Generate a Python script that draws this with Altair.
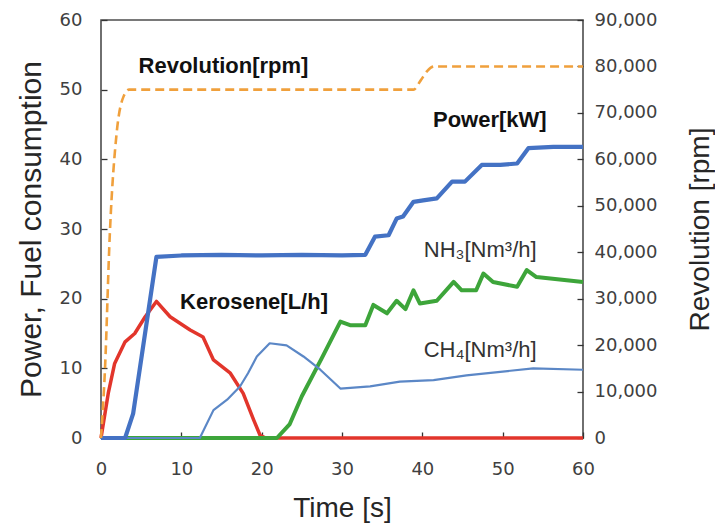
import altair as alt
import pandas as pd

# ---------------- data ----------------
x_ticks = [0, 10, 20, 30, 40, 50, 60]
left_ticks = [0, 10, 20, 30, 40, 50, 60]
right_ticks = [0, 10000, 20000, 30000, 40000, 50000, 60000, 70000, 80000, 90000]

rev_t = [0, 0.5, 1.1, 1.95, 2.8, 3.5, 38.9, 39.8, 40.6, 41.5, 60]
rev_rpm = [0, 15000, 44000, 65700, 73500, 75000, 75000, 77000, 79000, 80000, 80000]

power_t = [0, 3.0, 4.0, 6.9, 10, 15, 20, 25, 30, 32.9, 34.1, 35.8, 36.8, 37.6, 38.9,
           40.1, 41.8, 43.7, 45.3, 47.4, 49.7, 51.8, 53.2, 56.3, 60]
power_kw = [0, 0, 3.5, 26.0, 26.2, 26.3, 26.2, 26.3, 26.2, 26.3, 28.9, 29.1, 31.5, 31.8, 33.9,
            34.1, 34.4, 36.8, 36.8, 39.2, 39.2, 39.4, 41.6, 41.8, 41.8]

kero_t = [0, 0.9, 1.7, 3.0, 4.2, 5.5, 6.9, 8.6, 11.1, 12.7, 14.0, 16.1, 17.7, 19.0, 19.8, 20.5, 60]
kero_lh = [0, 6.4, 10.7, 13.8, 15.0, 17.4, 19.6, 17.4, 15.5, 14.5, 11.2, 9.3, 6.4, 2.6, 0.4, 0, 0]

ch4_t = [0, 12.3, 14.0, 15.7, 17.3, 18.3, 19.4, 21.0, 23.1, 25.2, 27.3, 29.8, 33.5, 37.2,
         41.4, 45.5, 49.7, 53.8, 60]
ch4_nm3 = [0, 0, 4.0, 5.5, 7.4, 9.3, 11.7, 13.6, 13.3, 11.7, 9.8, 7.1, 7.4, 8.1,
           8.3, 9.0, 9.5, 10.0, 9.8]

nh3_t = [0, 21.9, 23.5, 25.0, 27.5, 29.8, 31.0, 32.9, 33.9, 35.6, 36.8, 37.9, 38.9, 39.7,
         41.8, 43.9, 44.9, 46.7, 47.6, 48.8, 51.8, 53.0, 54.2, 60]
nh3_nm3 = [0, 0, 2.0, 6.0, 11.5, 16.7, 16.2, 16.2, 19.1, 17.9, 19.7, 18.5, 21.2, 19.3,
           19.7, 22.4, 21.2, 21.2, 23.6, 22.4, 21.7, 24.1, 23.1, 22.4]

bold_labels = ["Revolution[rpm]", "Power[kW]", "Kerosene[L/h]"]
bold_t = [15.25, 48.4, 19.05]
bold_v = [53.4, 45.6, 19.5]

gas_labels = ["NH\u2083[Nm\u00b3/h]", "CH\u2084[Nm\u00b3/h]"]
gas_t = [47.2, 47.2]
gas_v = [27.0, 12.6]

# ---------------- styling ----------------
C_ORANGE = "#f0a03c"
C_BLUE = "#4472c4"
C_RED = "#e2352b"
C_GREEN = "#3da53a"
C_CH4 = "#5b87c6"

LABEL_FONT = "DejaVu Sans"
TITLE_FONT = "Liberation Sans"
INWARD = {"expr": "-6"}

x_scale = alt.Scale(domain=[0, 60], nice=False, zero=False)
left_scale = alt.Scale(domain=[0, 60], nice=False)
right_scale = alt.Scale(domain=[0, 90000], nice=False)

x_axis = alt.Axis(values=x_ticks, title="Time [s]", tickSize=INWARD, domain=False,
                  grid=False, labelFlush=False, labelPadding=28, labelFont=LABEL_FONT,
                  labelFontSize=18, labelColor="#404040", tickColor="#333333", tickWidth=1.3,
                  titleFont=TITLE_FONT, titleFontSize=28, titleFontWeight="normal",
                  titleColor="#262626", titlePadding=16)

left_axis = alt.Axis(values=left_ticks, title="Power, Fuel consumption", tickSize=INWARD,
                     domain=False, grid=False, labelFlush=False, labelPadding=25,
                     labelFont=LABEL_FONT, labelFontSize=18, labelColor="#404040",
                     tickColor="#333333", tickWidth=1.3, titleFont=TITLE_FONT, titleFontSize=30,
                     titleFontWeight="normal", titleColor="#262626", titlePadding=13)

right_axis = alt.Axis(values=right_ticks, orient="right", format=",d", title="Revolution [rpm]",
                      tickSize=INWARD, domain=False, grid=False, labelFlush=False,
                      labelPadding=17, labelFont=LABEL_FONT, labelFontSize=18,
                      labelColor="#404040", tickColor="#333333", tickWidth=1.3,
                      titleFont=TITLE_FONT, titleFontSize=28, titleFontWeight="normal",
                      titleColor="#262626", titleAngle=270, titleBaseline="top",
                      titlePadding=30)


def series(t, v, color, width):
    df = pd.DataFrame({"t": t, "v": v})
    return alt.Chart(df).mark_line(color=color, strokeWidth=width, strokeJoin="round").encode(
        x=alt.X("t:Q", scale=x_scale, axis=x_axis),
        y=alt.Y("v:Q", scale=left_scale, axis=left_axis),
    )


red = series(kero_t, kero_lh, C_RED, 3.5)
green = series(nh3_t, nh3_nm3, C_GREEN, 4)
ch4 = series(ch4_t, ch4_nm3, C_CH4, 2.2)
power = series(power_t, power_kw, C_BLUE, 4.2)

bold_df = pd.DataFrame({"t": bold_t, "v": bold_v, "label": bold_labels})
bold_text = alt.Chart(bold_df).mark_text(
    font=TITLE_FONT, fontSize=22, fontWeight="bold", color="#111111",
    align="center", baseline="middle"
).encode(
    x=alt.X("t:Q", scale=x_scale, axis=x_axis),
    y=alt.Y("v:Q", scale=left_scale, axis=left_axis),
    text="label:N",
)

gas_df = pd.DataFrame({"t": gas_t, "v": gas_v, "label": gas_labels})
gas_text = alt.Chart(gas_df).mark_text(
    font=TITLE_FONT, fontSize=22, fontWeight="normal", color="#333333",
    align="center", baseline="middle"
).encode(
    x=alt.X("t:Q", scale=x_scale, axis=x_axis),
    y=alt.Y("v:Q", scale=left_scale, axis=left_axis),
    text="label:N",
)

left_layer = alt.layer(red, green, ch4, power, bold_text, gas_text)

rev_df = pd.DataFrame({"t": rev_t, "rpm": rev_rpm})
rev_line = alt.Chart(rev_df).mark_line(
    color=C_ORANGE, strokeWidth=2.6, strokeDash=[9, 5], interpolate="monotone"
).encode(
    x=alt.X("t:Q", scale=x_scale, axis=x_axis),
    y=alt.Y("rpm:Q", scale=right_scale, axis=right_axis),
)

chart = alt.layer(left_layer, rev_line).resolve_scale(y="independent").properties(
    width=482,
    height=418,
    padding={"left": 93, "top": 12, "right": 132, "bottom": 85},
    autosize=alt.AutoSizeParams(type="none"),
).configure(background="white").configure_view(stroke="#4d4d4d", strokeWidth=1.6)

chart.save("out.html", embed_options={"renderer": "svg", "actions": False})
